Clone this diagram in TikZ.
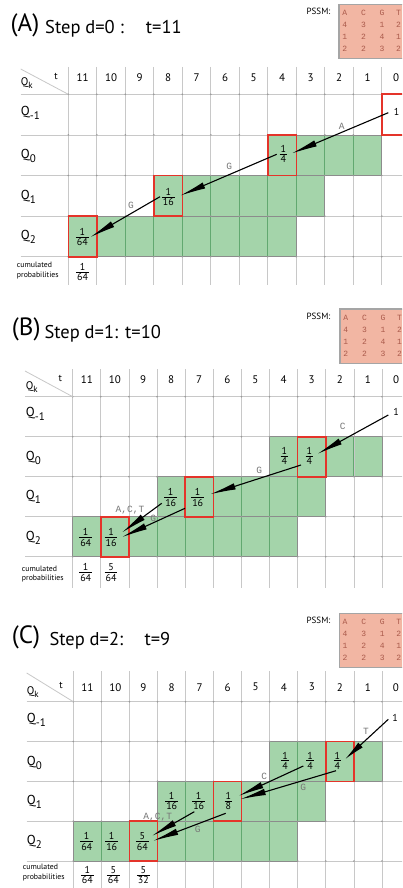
\documentclass[tikz,border=0pt]{standalone}
\usepackage{fontspec}
\setmainfont{PT Sans}
\newfontfamily\monof{Liberation Mono}
\usetikzlibrary{arrows.meta}
\definecolor{gfill}{RGB}{164,212,170}
\definecolor{gvl}{RGB}{98,168,112}
\definecolor{gridc}{RGB}{200,200,200}
\definecolor{outc}{RGB}{140,140,140}
\definecolor{redc}{RGB}{228,52,42}
\definecolor{pssmfill}{RGB}{242,182,163}
\definecolor{pssmtext}{RGB}{170,90,75}
\definecolor{pssmborder}{RGB}{165,165,165}
\definecolor{lblc}{RGB}{120,120,120}
\newcommand{\fr}[2]{\ensuremath{\vcenter{\offinterlineskip\halign{\hfil\kern1pt##\kern1pt\hfil\cr\rule{0pt}{7pt}#1\cr\noalign{\vskip1.4pt\hrule height0.55pt\vskip1.4pt}\rule{0pt}{7pt}#2\cr}}}}
\tikzset{
 gfillst/.style={fill=gfill},
 gline/.style={draw=gridc, line width=0.8pt},
 gvline/.style={draw=gvl, line width=0.9pt},
 gout/.style={draw=outc, line width=0.8pt},
 gdot/.style={fill=gray!80},
 redbox/.style={draw=redc, line width=1.6pt},
 val/.style={inner sep=0pt, font=\fontsize{10}{11}\selectfont},
 hdr/.style={inner sep=0pt, font=\fontsize{11}{12}\selectfont},
 ttl/.style={inner sep=0pt, anchor=base west, font=\fontsize{18.5}{19}\selectfont},
 ttlab/.style={inner sep=0pt, anchor=base west, font=\fontsize{25}{25}\selectfont},
 rowlab/.style={inner sep=0pt, anchor=base west, font=\fontsize{13}{13}\selectfont},
 qklab/.style={inner sep=0pt, anchor=base west, font=\fontsize{11}{11}\selectfont},
 tlab/.style={inner sep=0pt, font=\fontsize{10}{10}\selectfont},
 cumlab/.style={inner sep=0pt, anchor=west, align=left, font=\fontsize{7.8}{9.7}\selectfont},
 lbl/.style={inner sep=0pt, text=lblc, font=\monof\fontsize{9.5}{9.5}\selectfont},
 arr/.style={draw=black, line width=1.1pt, -{Latex[length=26pt,width=6.5pt]}},
 arrs/.style={draw=black, line width=1.1pt, -{Latex[length=21pt,width=6.5pt]}},
 pssmbox/.style={fill=pssmfill, draw=pssmborder, line width=1.2pt},
 pssmlab/.style={inner sep=0pt, font=\fontsize{9}{9}\selectfont},
 pssmtxt/.style={inner sep=0pt, text=pssmtext, font=\monof\fontsize{8}{8}\selectfont},
}
\newcommand{\gridpanel}[7]{%
 \def\xo{#1}\def\cw{#2}\def\xl{#3}\def\yt{#4}\def\yh{#5}\def\rh{#6}\def\yb{#7}%
 \fill[gfillst] ({\xo+7*\cw},{\yh+\rh}) rectangle ({\xo+11*\cw},{\yh+2*\rh});
 \fill[gfillst] ({\xo+3*\cw},{\yh+2*\rh}) rectangle ({\xo+9*\cw},{\yh+3*\rh});
 \fill[gfillst] ({\xo},{\yh+3*\rh}) rectangle ({\xo+8*\cw},{\yh+4*\rh});
 \foreach \k in {0,...,4}{\draw[gline] ({\xl},{\yh+\k*\rh}) -- (412,{\yh+\k*\rh});}
 \foreach \p in {0,...,12}{\draw[gline] ({\xo+\p*\cw},{\yt}) -- ({\xo+\p*\cw},{\yb});}
 \foreach \p in {8,9,10}{\draw[gvline] ({\xo+\p*\cw},{\yh+\rh}) -- ({\xo+\p*\cw},{\yh+2*\rh});}
 \foreach \p in {4,...,8}{\draw[gvline] ({\xo+\p*\cw},{\yh+2*\rh}) -- ({\xo+\p*\cw},{\yh+3*\rh});}
 \foreach \p in {1,...,7}{\draw[gvline] ({\xo+\p*\cw},{\yh+3*\rh}) -- ({\xo+\p*\cw},{\yh+4*\rh});}
 \draw[gout] ({\xo+7*\cw},{\yh+\rh}) rectangle ({\xo+11*\cw},{\yh+2*\rh});
 \draw[gout] ({\xo+3*\cw},{\yh+2*\rh}) rectangle ({\xo+9*\cw},{\yh+3*\rh});
 \draw[gout] ({\xo},{\yh+3*\rh}) rectangle ({\xo+8*\cw},{\yh+4*\rh});
 \foreach \k in {0,...,4}{\foreach \p in {0,...,11}{\fill[gdot] ({\xo+\p*\cw},{\yh+\k*\rh}) circle (0.9pt);}}
 \draw[gline] ({\xl},{\yt+2}) -- ({\xo},{\yh});
}
\newcommand{\redcell}[2]{\draw[redbox] ({\xo+#1*\cw},{\yh+#2*\rh}) rectangle ({\xo+(#1+1)*\cw},{\yh+(#2+1)*\rh});}
\newcommand{\headers}[4]{%
 \foreach \lab [count=\i from 0] in {11,10,...,0}{\node[hdr] (#1-h\lab) at ({#2+(\i+0.5)*#3},#4) {\lab};}}
\newcommand{\pssm}[3]{%
 \node[pssmlab] (#1-pl) at (318.5,{#3+7.5}) {PSSM:};
 \draw[pssmbox] (#2,#3) rectangle ({#2+80},{#3+54.5});
 \foreach \dy/\va/\vb/\vc/\vd [count=\n] in {8.5/A/C/G/T,20.5/4/3/1/2,32.5/1/2/4/1,45/2/2/3/2}{%
  \node[pssmtxt] (#1-p\n-1) at ({#2+5.8},{#3+\dy}) {\va};
  \node[pssmtxt] (#1-p\n-2) at ({#2+24.5},{#3+\dy}) {\vb};
  \node[pssmtxt] (#1-p\n-3) at ({#2+43},{#3+\dy}) {\vc};
  \node[pssmtxt] (#1-p\n-4) at ({#2+59.5},{#3+\dy}) {\vd};}
}
\newcommand{\rowlabels}[6]{%
 \node[rowlab] (#1-qm1) at (#2,#3) {Q\raisebox{-4pt}{\fontsize{11}{11}\selectfont -1}};
 \node[rowlab] (#1-q0) at (#2,#4) {Q\raisebox{-4pt}{\fontsize{11}{11}\selectfont 0}};
 \node[rowlab] (#1-q1) at (#2,#5) {Q\raisebox{-4pt}{\fontsize{11}{11}\selectfont 1}};
 \node[rowlab] (#1-q2) at (#2,#6) {Q\raisebox{-4pt}{\fontsize{11}{11}\selectfont 2}};
}
\begin{document}
\begin{tikzpicture}[x=1pt,y=-1pt]
\useasboundingbox (0,0) rectangle (402,888);
\clip (0,0) rectangle (402,888);
\fill[white] (0,0) rectangle (402,888);

% ================= Panel A =================
\node[ttlab] (A-lab) at (10.5,31.7) {(A)};
\node[ttl] (A-step) at (45,33.3) {Step d=0 :};
\node[ttl] (A-t) at (145.7,33.3) {t=11};
\pssm{A}{339}{4.3}
\gridpanel{68.3}{28.5}{20.7}{67}{94.3}{40.6}{285}
\redcell{11}{0}\redcell{7}{1}\redcell{3}{2}\redcell{0}{3}
\headers{A}{68.3}{28.5}{78}
\node[tlab] (A-tt) at (56,76.5) {t};
\node[qklab] (A-qk) at (20.7,85.5) {Q\raisebox{-3pt}{\fontsize{9}{9}\selectfont k}};
\rowlabels{A}{20.7}{116}{158.4}{199}{239.6}
\node[cumlab] (A-cum) at (16.7,270.8) {cumulated\\probabilities};
\node[val] (A-v1) at (396.7,112) {1};
\node[val] (A-q0c4) at (283.3,154) {\fr{1}{4}};
\node[val] (A-q1c8) at (168.3,197) {\fr{1}{16}};
\node[val] (A-q2c11) at (82.3,237) {\fr{1}{64}};
\node[val] (A-cum11) at (82.5,272) {\fr{1}{64}};
\draw[arr] ([shift={(-8.4,0.7)}]A-v1.center) -- ([shift={(8.2,-0.5)}]A-q0c4.center);
\draw[arr] ([shift={(-6.6,0.3)}]A-q0c4.center) -- ([shift={(11.7,-1.3)}]A-q1c8.center);
\draw[arr] ([shift={(-8.3,-0.3)}]A-q1c8.center) -- ([shift={(7.7,0.3)}]A-q2c11.center);
\node[lbl] (A-l1) at (341.7,126) {A};
\node[lbl] (A-l2) at (229.3,166.7) {G};
\node[lbl] (A-l3) at (131,205) {G};

% ================= Panel B =================
\node[ttlab] (B-lab) at (11.7,335) {(B)};
\node[ttl] (B-step) at (44.3,338.3) {Step d=1:};
\node[ttl] (B-t) at (125,338.3) {t=10};
\pssm{B}{340}{309}
\gridpanel{72.7}{28.12}{25}{369}{396.7}{40}{588}
\redcell{8}{1}\redcell{4}{2}\redcell{1}{3}
\headers{B}{72.7}{28.12}{380}
\node[tlab] (B-tt) at (60.3,378.5) {t};
\node[qklab] (B-qk) at (25.7,389.3) {Q\raisebox{-3pt}{\fontsize{9}{9}\selectfont k}};
\rowlabels{B}{25.7}{416.5}{460}{499.6}{540}
\node[cumlab] (B-cum) at (21.7,574) {cumulated\\probabilities};
\node[val] (B-v1) at (396,412.3) {1};
\node[val] (B-q0c4) at (284.3,456) {\fr{1}{4}};
\node[val] (B-q0c3) at (309.3,456) {\fr{1}{4}};
\node[val] (B-q1c8) at (170.7,497.3) {\fr{1}{16}};
\node[val] (B-q1c7) at (197.7,497.3) {\fr{1}{16}};
\node[val] (B-q2c11) at (85.7,537.7) {\fr{1}{64}};
\node[val] (B-q2c10) at (111,537.7) {\fr{1}{16}};
\node[val] (B-cum11) at (85.7,572.7) {\fr{1}{64}};
\node[val] (B-cum10) at (111,572.7) {\fr{5}{64}};
\draw[arr] ([shift={(-7.7,2.7)}]B-v1.center) -- ([shift={(8,-2)}]B-q0c3.center);
\draw[arr] ([shift={(-8.3,9)}]B-q0c3.center) -- ([shift={(12.3,-3)}]B-q1c7.center);
\draw[arr] ([shift={(-9,6)}]B-q1c8.center) -- ([shift={(10.7,-5)}]B-q2c10.center);
\draw[arr] ([shift={(-12.7,11)}]B-q1c7.center) -- ([shift={(10.7,-0.5)}]B-q2c10.center);
\node[lbl] (B-l1) at (342.7,426.7) {C};
\node[lbl] (B-l2) at (259.3,470) {G};
\node[lbl] (B-l3) at (130,510) {A,C,T};
\node[lbl] (B-l4) at (153.3,518.3) {G};

% ================= Panel C =================
\node[ttlab] (C-lab) at (11.7,643.3) {(C)};
\node[ttl] (C-step) at (49.3,645) {Step d=2:};
\node[ttl] (C-t) at (144.3,645) {t=9};
\pssm{C}{339.3}{613.3}
\gridpanel{73.3}{28.06}{26.7}{671}{701.7}{39.83}{888}
\redcell{9}{1}\redcell{5}{2}\redcell{2}{3}
\headers{C}{73.3}{28.06}{687.2}
\node[tlab] (C-tt) at (61,685) {t};
\node[qklab] (C-qk) at (26.7,694.3) {Q\raisebox{-3pt}{\fontsize{9}{9}\selectfont k}};
\rowlabels{C}{26.7}{722.8}{765}{804.5}{844.5}
\node[cumlab] (C-cum) at (22.7,872.7) {cumulated\\probabilities};
\node[val] (C-v1) at (395,718) {1};
\node[val] (C-q0c4) at (285,760.7) {\fr{1}{4}};
\node[val] (C-q0c3) at (310,760.7) {\fr{1}{4}};
\node[val] (C-q0c2) at (337.3,760.7) {\fr{1}{4}};
\node[val] (C-q1c8) at (171.7,801) {\fr{1}{16}};
\node[val] (C-q1c7) at (198.7,801) {\fr{1}{16}};
\node[val] (C-q1c6) at (228.3,801) {\fr{1}{8}};
\node[val] (C-q2c11) at (86.7,841.7) {\fr{1}{64}};
\node[val] (C-q2c10) at (111.7,841.7) {\fr{1}{16}};
\node[val] (C-q2c9) at (142.3,841.7) {\fr{5}{64}};
\node[val] (C-cum11) at (87.3,875) {\fr{1}{64}};
\node[val] (C-cum10) at (113.3,875) {\fr{5}{64}};
\node[val] (C-cum9) at (143.3,875) {\fr{5}{32}};
\draw[arrs] ([shift={(-6.7,1.3)}]C-v1.center) -- ([shift={(7.7,-1.4)}]C-q0c2.center);
\draw[arr] ([shift={(-6.7,5.3)}]C-q0c3.center) -- ([shift={(10,-5)}]C-q1c6.center);
\draw[arr] ([shift={(-1.3,10)}]C-q0c2.center) -- ([shift={(11.7,-1.7)}]C-q1c6.center);
\draw[arr] ([shift={(-4.4,10.7)}]C-q1c7.center) -- ([shift={(9.4,-5.7)}]C-q2c9.center);
\draw[arr] ([shift={(-2.6,12.3)}]C-q1c6.center) -- ([shift={(10.4,-0.7)}]C-q2c9.center);
\node[lbl] (C-l1) at (366,731.7) {T};
\node[lbl] (C-l2) at (264.3,776) {C};
\node[lbl] (C-l3) at (303.3,787.7) {G};
\node[lbl] (C-l4) at (157.7,816.7) {A,C,T};
\node[lbl] (C-l5) at (197.7,829) {G};
\end{tikzpicture}
\end{document}
